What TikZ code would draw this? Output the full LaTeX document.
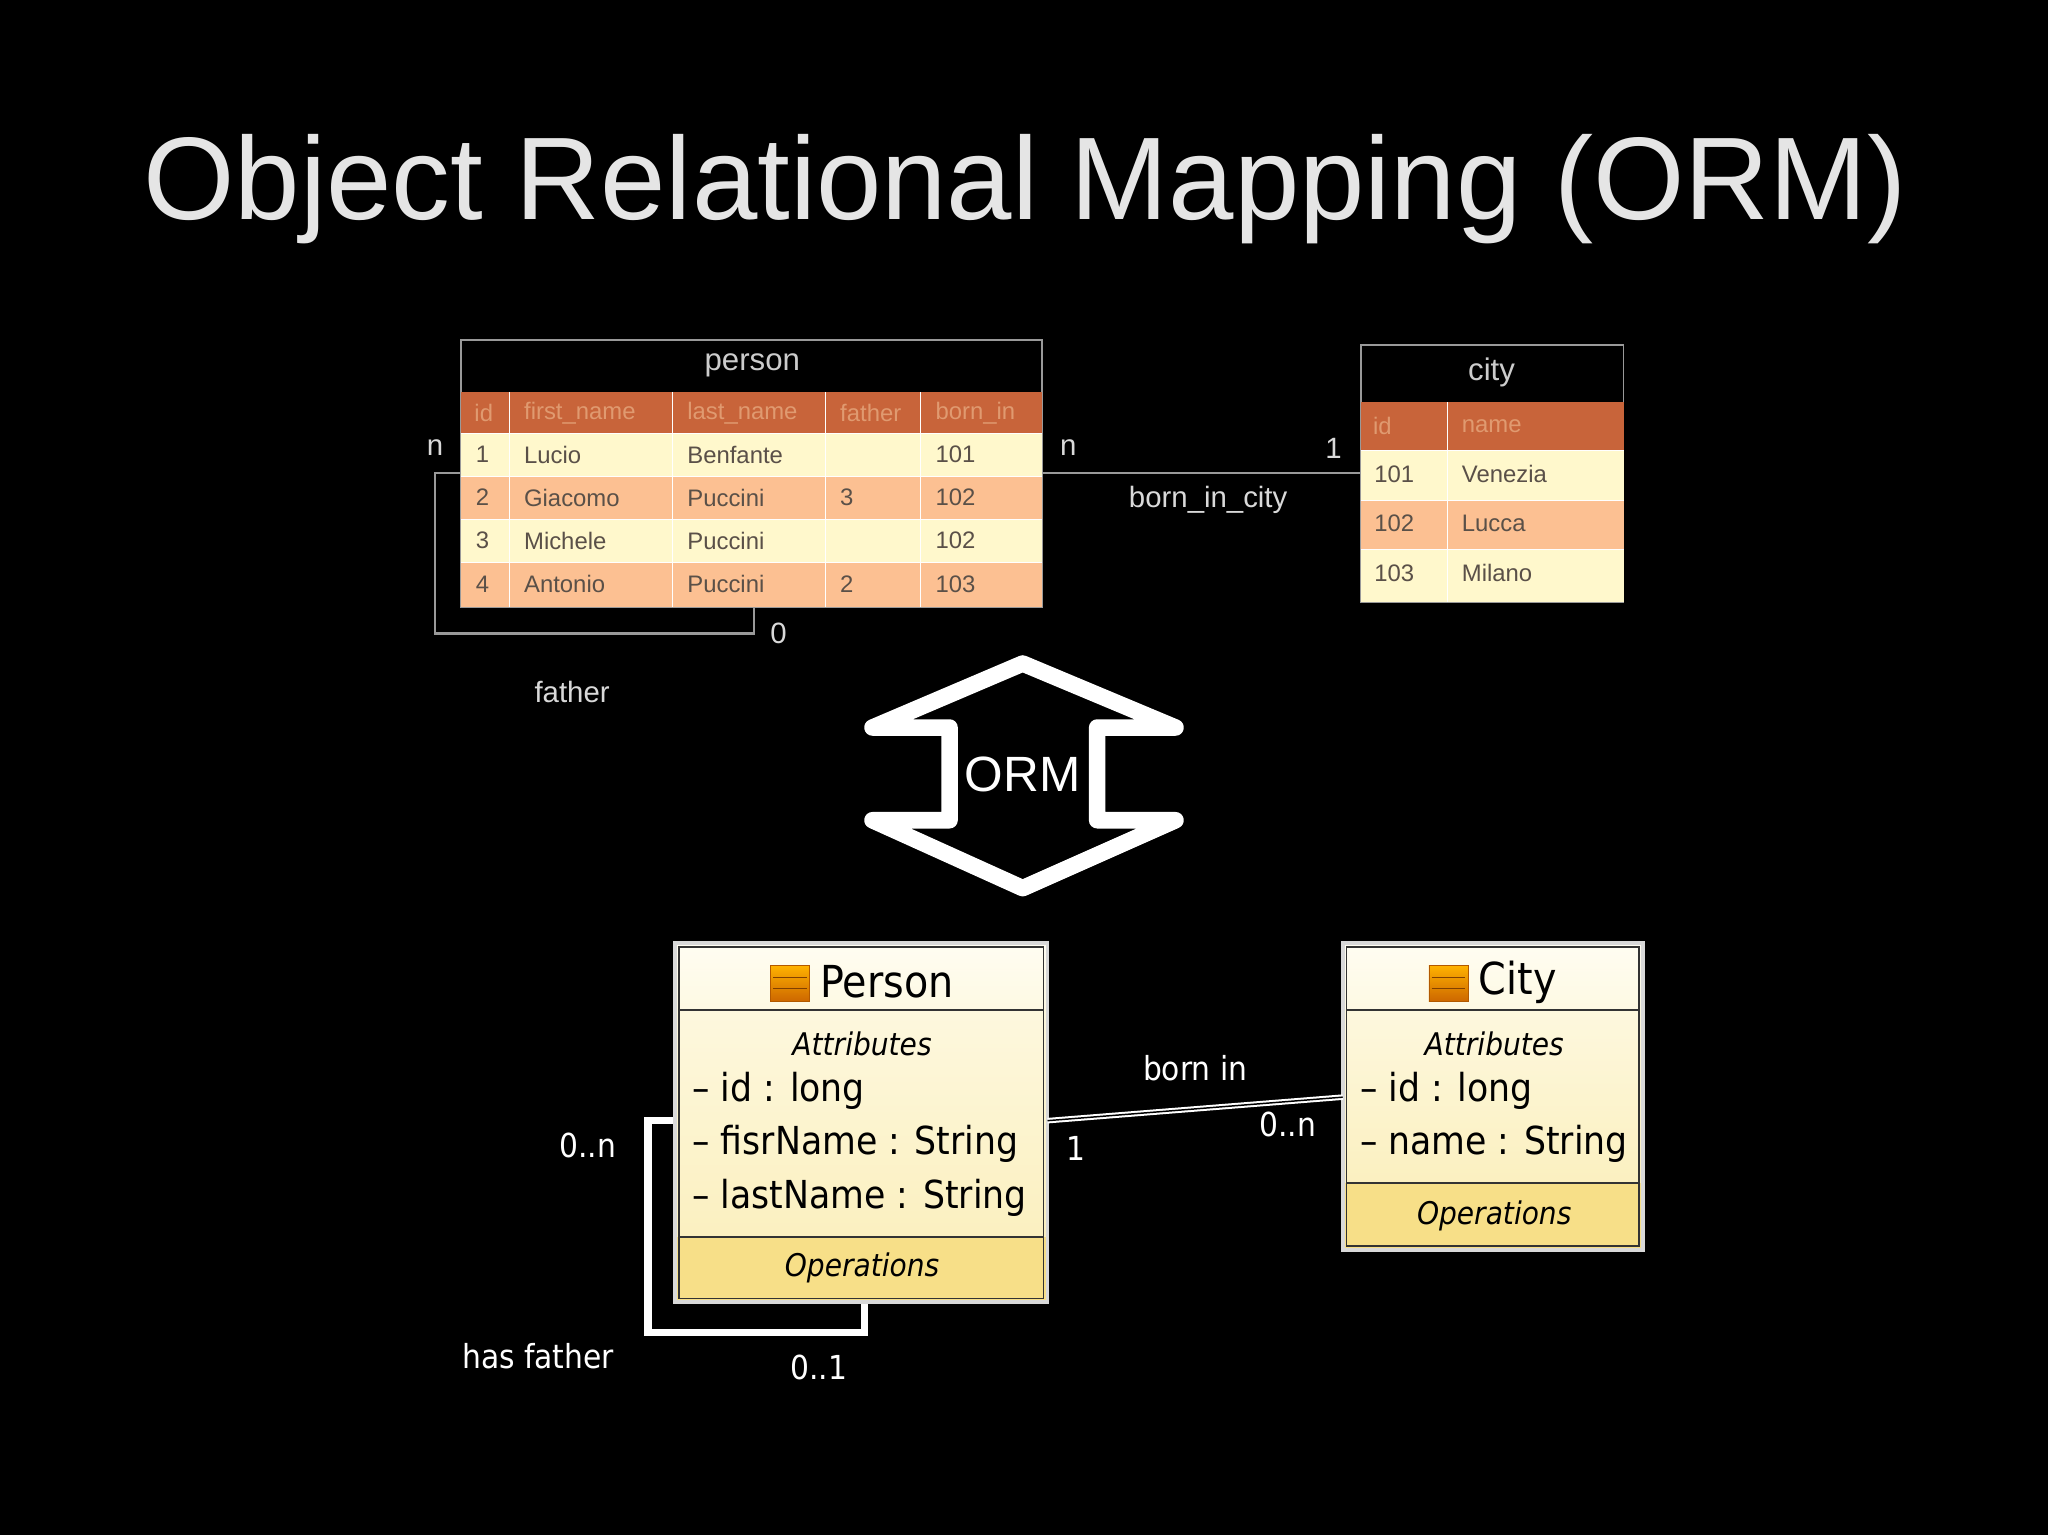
\documentclass[tikz,border=0pt]{standalone}
\usepackage{fontspec}
\setmainfont{Liberation Sans}
\newfontfamily\umlf{DejaVu Sans Condensed}
\definecolor{hdr}{HTML}{C8643A}
\definecolor{rowa}{HTML}{FFF8CC}
\definecolor{rowb}{HTML}{FCC092}
\definecolor{ttxt}{HTML}{5A5048}
\definecolor{htxt}{HTML}{E09A70}
\definecolor{umltop}{HTML}{FFFDF2}
\definecolor{umlmid}{HTML}{FBF0C0}
\definecolor{umlop}{HTML}{F7DF88}
\begin{document}
\begin{tikzpicture}[x=0.25mm,y=-0.25mm,
  tt/.style={font=\fontsize{13}{13}\selectfont,text=ttxt,anchor=west,inner sep=0},
  th/.style={font=\fontsize{13}{13}\selectfont,text=htxt,anchor=west,inner sep=0},
  lbl/.style={font=\fontsize{16}{16}\selectfont,text=white!85!black,inner sep=0},
  umt/.style={font=\umlf\fontsize{21}{21}\selectfont,inner sep=0,text=black},
  uml/.style={font=\umlf\fontsize{18}{18}\selectfont,inner sep=0,text=white},
  conn/.style={draw=white!60!black,line width=1.2pt},
  sep/.style={draw=white,line width=0.6pt}]
\fill[black] (0,0) rectangle (1568,1175);
\useasboundingbox (0,0) rectangle (1568,1175);
\node[font=\fontsize{64}{64}\selectfont,text=white!90!black] (title) at (785,145) {Object Relational Mapping (ORM)};
% person table
\node[draw=white!60!black,line width=1pt,minimum width=445*0.25mm,minimum height=205*0.25mm,inner sep=0] (pt) at (575.5,362.5) {};
\fill[hdr] (353,300) rectangle (798,332);
\fill[rowa] (353,332) rectangle (798,365);
\fill[rowb] (353,365) rectangle (798,398);
\fill[rowa] (353,398) rectangle (798,431);
\fill[rowb] (353,431) rectangle (798,465);
\foreach \x in {390,515,632,705} \draw[sep] (\x,300) -- (\x,465);
\foreach \y in {332,365,398,431} \draw[sep] (353,\y) -- (798,\y);
\node[font=\fontsize{17}{17}\selectfont,text=white!80!black] (ptn) at (576,280) {person};
\foreach \t/\x in {id/363,first\_name/401,last\_name/526,father/643,born\_in/716} \node[th] at (\x,316) {\t};
\foreach \a/\b/\c/\d/\e/\y in {1/Lucio/Benfante//101/348,2/Giacomo/Puccini/3/102/381,3/Michele/Puccini//102/414,4/Antonio/Puccini/2/103/447}{
  \node[tt] at (364,\y) {\a}; \node[tt] at (401,\y) {\b}; \node[tt] at (526,\y) {\c};
  \node[tt] at (643,\y) {\d}; \node[tt] at (716,\y) {\e};}
% city table
\node[draw=white!60!black,line width=1pt,minimum width=201*0.25mm,minimum height=197*0.25mm,inner sep=0] (ct) at (1142.5,362.5) {};
\fill[hdr] (1042,308) rectangle (1243,345);
\fill[rowa] (1042,345) rectangle (1243,383);
\fill[rowb] (1042,383) rectangle (1243,421);
\fill[rowa] (1042,421) rectangle (1243,461);
\draw[sep] (1108,308) -- (1108,461);
\foreach \y in {345,383,421} \draw[sep] (1042,\y) -- (1243,\y);
\node[font=\fontsize{17}{17}\selectfont,text=white!80!black] (ctn) at (1142,285) {city};
\node[th] at (1051,326) {id}; \node[th] at (1119,326) {name};
\foreach \a/\b/\y in {101/Venezia/363,102/Lucca/401,103/Milano/439}{
  \node[tt] at (1052,\y) {\a}; \node[tt] at (1119,\y) {\b};}
% connectors
\coordinate (pl) at (353,362); \coordinate (pb) at (577,465);
\draw[conn] (pl) -- (333,362) -- (333,485) -- (577,485) -- (pb);
\coordinate (pr) at (798,362); \coordinate (cl) at (1042,362);
\draw[conn] (pr) -- (cl);
\node[lbl] at (333,343) {n}; \node[lbl] at (596,485) {0}; \node[lbl] at (438,530) {father};
\node[lbl] at (818,343) {n}; \node[lbl] at (1021,343) {1}; \node[lbl] at (925,383) {born\_in\_city};
% ORM double arrow
\draw[white,line width=9pt,line join=round,fill=black] (783,508) -- (900,557) -- (840,557) -- (840,628) -- (900,628) -- (783,680) -- (668,628) -- (727,628) -- (727,557) -- (668,557) -- cycle;
\node[font=\fontsize{27}{27}\selectfont,text=white] (orm) at (783,593) {ORM};
% UML self loop
\coordinate (ul) at (517,858); \coordinate (ub) at (662,997);
\draw[white,line width=4pt] (ul) -- (496,858) -- (496,1020) -- (662,1020) -- (ub);
% Person class
\shade[top color=umltop,bottom color=umltop!70!umlmid] (517,722) rectangle (802,773);
\shade[top color=umlmid!40!umltop,bottom color=umlmid] (517,773) rectangle (802,947);
\fill[umlop] (517,947) rectangle (802,997);
\node[draw=white!85!black,line width=2pt,minimum width=285*0.25mm,minimum height=275*0.25mm,inner sep=0] (pc) at (559.5*1+100,859.5) {};
\draw[black!80,line width=1.2pt] (520,773) -- (799,773) (520,947) -- (799,947);
\draw[black!80,line width=0.8pt] (520,725) rectangle (799,994);
% City class
\shade[top color=umltop,bottom color=umltop!70!umlmid] (1028,722) rectangle (1258,773);
\shade[top color=umlmid!40!umltop,bottom color=umlmid] (1028,773) rectangle (1258,906);
\fill[umlop] (1028,906) rectangle (1258,957);
\node[draw=white!85!black,line width=2pt,minimum width=230*0.25mm,minimum height=235*0.25mm,inner sep=0] (cc) at (1143,839.5) {};
\draw[black!80,line width=1.2pt] (1031,773) -- (1255,773) (1031,906) -- (1255,906);
\draw[black!80,line width=0.8pt] (1031,725) rectangle (1255,954);
% icons
\foreach \ix in {590,1094}{
  \shade[top color=orange!60!yellow,bottom color=orange!80!black,draw=orange!70!black] (\ix,739) rectangle (\ix+30,767);
  \draw[orange!50!black] (\ix+2,748) -- (\ix+28,748) (\ix+2,757) -- (\ix+28,757);}
\node[umt,anchor=west,font=\umlf\fontsize{24}{24}\selectfont] (pname) at (628,752) {Person};
\node[umt,anchor=west,font=\umlf\fontsize{24}{24}\selectfont] (cname) at (1132,752) {City};
\node[umt,font=\umlf\itshape\fontsize{17}{17}\selectfont] at (660,799) {Attributes};
\node[umt,anchor=west] at (530,835) {– id : long};
\node[umt,anchor=west] at (530,876) {– fisrName : String};
\node[umt,anchor=west] at (530,917) {– lastName : String};
\node[umt,font=\umlf\itshape\fontsize{17}{17}\selectfont] at (660,971) {Operations};
\node[umt,font=\umlf\itshape\fontsize{17}{17}\selectfont] at (1144,799) {Attributes};
\node[umt,anchor=west] at (1041,835) {– id : long};
\node[umt,anchor=west] at (1041,876) {– name : String};
\node[umt,font=\umlf\itshape\fontsize{17}{17}\selectfont] at (1144,931) {Operations};
% born in association
\coordinate (pa) at (802,858); \coordinate (ca) at (1028,840);
\draw[white,line width=3pt] (pa) -- (ca);
\draw[black,line width=0.8pt] (pa) -- (ca);
\node[uml] at (915,818) {born in}; \node[uml] at (824,879) {1}; \node[uml] at (986,861) {0..n};
\node[uml] at (450,877) {0..n}; \node[uml] at (412,1038) {has father}; \node[uml] at (627,1047) {0..1};
\end{tikzpicture}
\end{document}
